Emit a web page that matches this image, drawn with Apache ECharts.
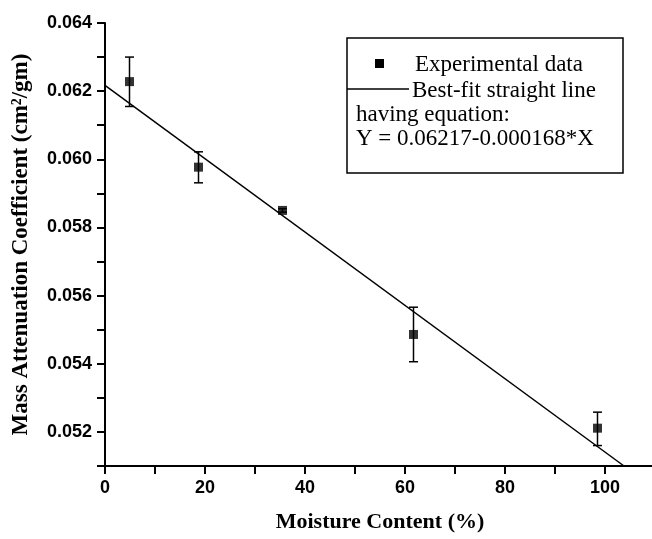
<!DOCTYPE html>
<html>
<head>
<meta charset="utf-8">
<script src="https://cdn.jsdelivr.net/npm/echarts@6/dist/echarts.min.js"></script>
<style>
html, body { margin: 0; padding: 0; background: #fff; }
#main { width: 652px; height: 539px; }
</style>
</head>
<body>
<div id="main"></div>
<script>
// measured points (moisture %, attenuation cm2/gm) with error bar ends
var moisture = [4.9, 18.7, 35.5, 61.7, 98.5];
var attenuation = [0.06228, 0.05977, 0.05850, 0.05486, 0.05211];
var errLow = [0.06155, 0.05931, 0.05845, 0.05406, 0.05160];
var errHigh = [0.06300, 0.06022, 0.05855, 0.05566, 0.05258];
// best-fit line end points as drawn
var fitX = [0, 103.8];
var fitY = [0.06217, 0.051];
var legendText = ['Experimental data', 'Best-fit straight line', 'having equation:', 'Y = 0.06217-0.000168*X'];

function chart() {
    var myChart = echarts.init(document.getElementById('main'));

    var points = [], bars = [], fit = [];
    for (var i = 0; i < moisture.length; i++) {
        points.push([moisture[i], attenuation[i]]);
        bars.push([moisture[i], errLow[i], errHigh[i]]);
    }
    for (var j = 0; j < fitX.length; j++) {
        fit.push([fitX[j], fitY[j]]);
    }

    function renderError(params, api) {
        var top = api.coord([api.value(0), api.value(2)]);
        var bot = api.coord([api.value(0), api.value(1)]);
        var w = 4.5;
        var st = {stroke: '#000', lineWidth: 1.5};
        return {
            type: 'group',
            children: [
                {type: 'line', shape: {x1: top[0], y1: top[1], x2: bot[0], y2: bot[1]}, style: st},
                {type: 'line', shape: {x1: top[0] - w, y1: top[1], x2: top[0] + w, y2: top[1]}, style: st},
                {type: 'line', shape: {x1: bot[0] - w, y1: bot[1], x2: bot[0] + w, y2: bot[1]}, style: st}
            ]
        };
    }

    var serif = '"Liberation Serif", "Times New Roman", serif';
    var sans = '"Liberation Sans", Arial, sans-serif';

    var option = {
        backgroundColor: '#fff',
        animation: false,
        grid: {
            left: 105,
            right: -3,
            top: 23,
            bottom: 73,
            containLabel: false,
            outerBoundsMode: 'none'
        },
        xAxis: {
            type: 'value',
            min: 0,
            max: 110,
            interval: 10,
            name: 'Moisture Content (%)',
            nameLocation: 'middle',
            nameGap: 45,
            nameTextStyle: {color: '#000', fontFamily: serif, fontWeight: 'bold', fontSize: 22},
            axisLine: {onZero: false, lineStyle: {color: '#000', width: 2}},
            axisTick: {inside: false, length: 8, lineStyle: {color: '#000', width: 2}},
            axisLabel: {
                margin: 13,
                color: '#000',
                fontFamily: sans,
                fontWeight: 'bold',
                fontSize: 18,
                formatter: function (v) {
                    return v % 20 === 0 ? String(v) : '';
                }
            },
            splitLine: {show: false}
        },
        yAxis: {
            type: 'value',
            min: 0.051,
            max: 0.064,
            interval: 0.001,
            name: 'Mass Attenuation Coefficient (cm\u00b2/gm)',
            nameLocation: 'middle',
            nameGap: 72,
            nameTextStyle: {color: '#000', fontFamily: serif, fontWeight: 'bold', fontSize: 23},
            axisLine: {lineStyle: {color: '#000', width: 2}},
            axisTick: {inside: false, length: 8, lineStyle: {color: '#000', width: 2}},
            axisLabel: {
                margin: 13,
                color: '#000',
                fontFamily: sans,
                fontWeight: 'bold',
                fontSize: 18,
                formatter: function (v) {
                    var k = Math.round(v * 1000);
                    return k % 2 === 0 ? (k / 1000).toFixed(3) : '';
                }
            },
            splitLine: {show: false}
        },
        series: [
            {
                name: 'fit',
                type: 'line',
                data: fit,
                showSymbol: false,
                lineStyle: {color: '#000', width: 1.5},
                z: 2
            },
            {
                name: 'error',
                type: 'custom',
                data: bars,
                renderItem: renderError,
                encode: {x: 0, y: [1, 2]},
                z: 3
            },
            {
                name: 'Experimental data',
                type: 'scatter',
                data: points,
                symbol: 'rect',
                symbolSize: 9,
                itemStyle: {color: '#000'},
                z: 4
            }
        ],
        graphic: [
            {
                type: 'rect',
                shape: {x: 347, y: 38, width: 276, height: 135},
                style: {fill: '#fff', stroke: '#000', lineWidth: 1.5},
                z: 10
            },
            {
                type: 'rect',
                shape: {x: 375, y: 59, width: 9, height: 9},
                style: {fill: '#000'},
                z: 11
            },
            {
                type: 'line',
                shape: {x1: 347, y1: 89, x2: 409, y2: 89},
                style: {stroke: '#000', lineWidth: 1.5},
                z: 11
            },
            {type: 'text', x: 415, y: 65, style: {text: legendText[0], font: '23px ' + serif, fill: '#000', verticalAlign: 'middle'}, z: 11},
            {type: 'text', x: 412, y: 91, style: {text: legendText[1], font: '23px ' + serif, fill: '#000', verticalAlign: 'middle'}, z: 11},
            {type: 'text', x: 356, y: 115, style: {text: legendText[2], font: '23px ' + serif, fill: '#000', verticalAlign: 'middle'}, z: 11},
            {type: 'text', x: 356, y: 139, style: {text: legendText[3], font: '23px ' + serif, fill: '#000', verticalAlign: 'middle'}, z: 11}
        ]
    };

    myChart.setOption(option);
}
chart();
</script>
</body>
</html>
